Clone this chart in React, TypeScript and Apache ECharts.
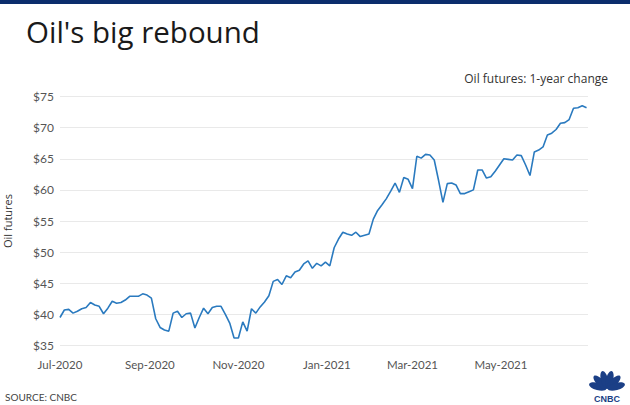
import React, { useEffect, useRef } from "react";
import * as echarts from "echarts";

// Oil futures, one reading every 3 calendar days from 2020-07-01
const startDate = "2020-07-01";
const endDate = "2021-06-30";
const stepDays = 3;
const oilPrices = [
  39.5, 40.7, 40.8, 40.2, 40.5, 40.9, 41.1, 41.9, 41.5, 41.3,
  40.1, 41.0, 42.1, 41.8, 41.9, 42.3, 42.9, 42.9, 42.9, 43.3,
  43.1, 42.6, 39.3, 37.9, 37.5, 37.3, 40.2, 40.5, 39.5, 40.1,
  40.2, 37.8, 39.5, 41.0, 40.1, 41.1, 41.3, 41.3, 40.0, 38.6,
  36.2, 36.2, 38.8, 37.3, 40.9, 40.2, 41.2, 42.0, 43.0, 45.3,
  45.6, 44.8, 46.2, 45.9, 46.8, 47.1, 48.1, 48.6, 47.4, 48.2,
  47.8, 48.4, 47.8, 50.7, 52.1, 53.2, 52.9, 52.7, 53.2, 52.5,
  52.7, 52.9, 55.3, 56.7, 57.6, 58.6, 59.8, 61.1, 59.6, 62.0,
  61.7, 60.2, 65.4, 65.1, 65.7, 65.6, 64.8, 61.5, 58.0, 61.0,
  61.1, 60.8, 59.4, 59.4, 59.7, 60.0, 63.2, 63.2, 61.9, 62.1,
  63.0, 64.0, 65.0, 64.9, 64.8, 65.6, 65.5, 64.0, 62.3, 66.1,
  66.4, 66.9, 68.8, 69.1, 69.7, 70.7, 70.8, 71.3, 73.1, 73.2,
  73.5, 73.2,
];

const tickDates = ["2020-07-01", "2020-09-01", "2020-11-01", "2021-01-01", "2021-03-01", "2021-05-01"];
const tickLabels = ["Jul-2020", "Sep-2020", "Nov-2020", "Jan-2021", "Mar-2021", "May-2021"];

const yMin = 35;
const yMax = 75;
const yStep = 5;

const titleText = "Oil's big rebound";
const subtitleText = "Oil futures: 1-year change";
const yAxisTitle = "Oil futures";
const sourceText = "SOURCE: CNBC";

const FONT = "Lato, 'Open Sans', sans-serif";
const FONT2 = "'Open Sans', Lato, sans-serif";

function ts(d: string) {
  const [y, m, day] = d.split("-").map(Number);
  return Date.UTC(y, m - 1, day);
}

export default function App() {
  const ref = useRef<HTMLDivElement>(null);

  useEffect(() => {
    if (!ref.current) return;
    const chart = echarts.init(ref.current, undefined, { renderer: "svg" });
    const DAY = 86400000;
    const t0 = ts(startDate);
    const seriesData = oilPrices.map((v, i) => [t0 + i * stepDays * DAY, v]);
    const tickTs = tickDates.map(ts);

    const feathers = [-75, -45, -15, 15, 45, 75].map((deg) => {
      const a = (deg * Math.PI) / 180;
      const cx = 607, cy = 389, r = 9.5;
      return {
        type: "ellipse",
        shape: { cx: 0, cy: 0, rx: 3.6, ry: 9 },
        x: cx + r * Math.sin(a),
        y: cy - r * Math.cos(a),
        rotation: -a,
        style: { fill: "#1b3f86" },
      };
    });

    chart.setOption({
      animation: false,
      backgroundColor: "#ffffff",
      grid: { left: 60, right: 42, top: 96.5, bottom: 59.5, containLabel: false },
      xAxis: {
        type: "value",
        min: t0,
        max: ts(endDate),
        axisLine: { show: false },
        axisTick: { show: false },
        splitLine: { show: false },
        axisLabel: {
          customValues: tickTs,
          margin: 13,
          color: "#555",
          fontSize: 11.5,
          fontFamily: FONT,
          formatter: (val: number) => {
            const idx = tickTs.findIndex((t) => Math.abs(t - val) < DAY);
            return idx >= 0 ? tickLabels[idx] : "";
          },
        },
      },
      yAxis: {
        type: "value",
        min: yMin,
        max: yMax,
        interval: yStep,
        axisLine: { show: false },
        axisTick: { show: false },
        splitLine: { lineStyle: { color: "#e9e9e9", width: 1 } },
        axisLabel: {
          margin: 6,
          color: "#555",
          fontSize: 12,
          fontFamily: FONT,
          formatter: (v: number) => "$" + v,
        },
      },
      series: [
        {
          type: "line",
          data: seriesData,
          showSymbol: false,
          symbol: "none",
          lineStyle: { color: "#2a7abf", width: 1.6 },
          emphasis: { disabled: true },
        },
      ],
      graphic: [
        { type: "rect", shape: { x: 0, y: 0, width: 630, height: 4 }, style: { fill: "#0b2d6c" } },
        {
          type: "text",
          x: 26,
          y: 31,
          style: { text: titleText, fill: "#1a1a1a", font: `29.5px ${FONT2}`, verticalAlign: "middle", align: "left" },
        },
        {
          type: "text",
          x: 608,
          y: 78,
          style: { text: subtitleText, fill: "#333", font: `12px ${FONT2}`, verticalAlign: "middle", align: "right" },
        },
        {
          type: "text",
          x: 7,
          y: 221,
          rotation: Math.PI / 2,
          style: { text: yAxisTitle, fill: "#333", font: `11px ${FONT2}`, verticalAlign: "middle", align: "center" },
        },
        {
          type: "text",
          x: 5,
          y: 397,
          style: { text: sourceText, fill: "#444", font: `10px ${FONT}`, verticalAlign: "middle", align: "left" },
        },
        ...feathers,
        {
          type: "text",
          x: 607,
          y: 398.5,
          style: { text: "CNBC", fill: "#1b3f86", font: `bold 9px Arial, sans-serif`, verticalAlign: "middle", align: "center" },
        },
      ],
    });
    return () => chart.dispose();
  }, []);

  return <div ref={ref} style={{ position: "fixed", left: 0, top: 0, width: 630, height: 405 }} />;
}
